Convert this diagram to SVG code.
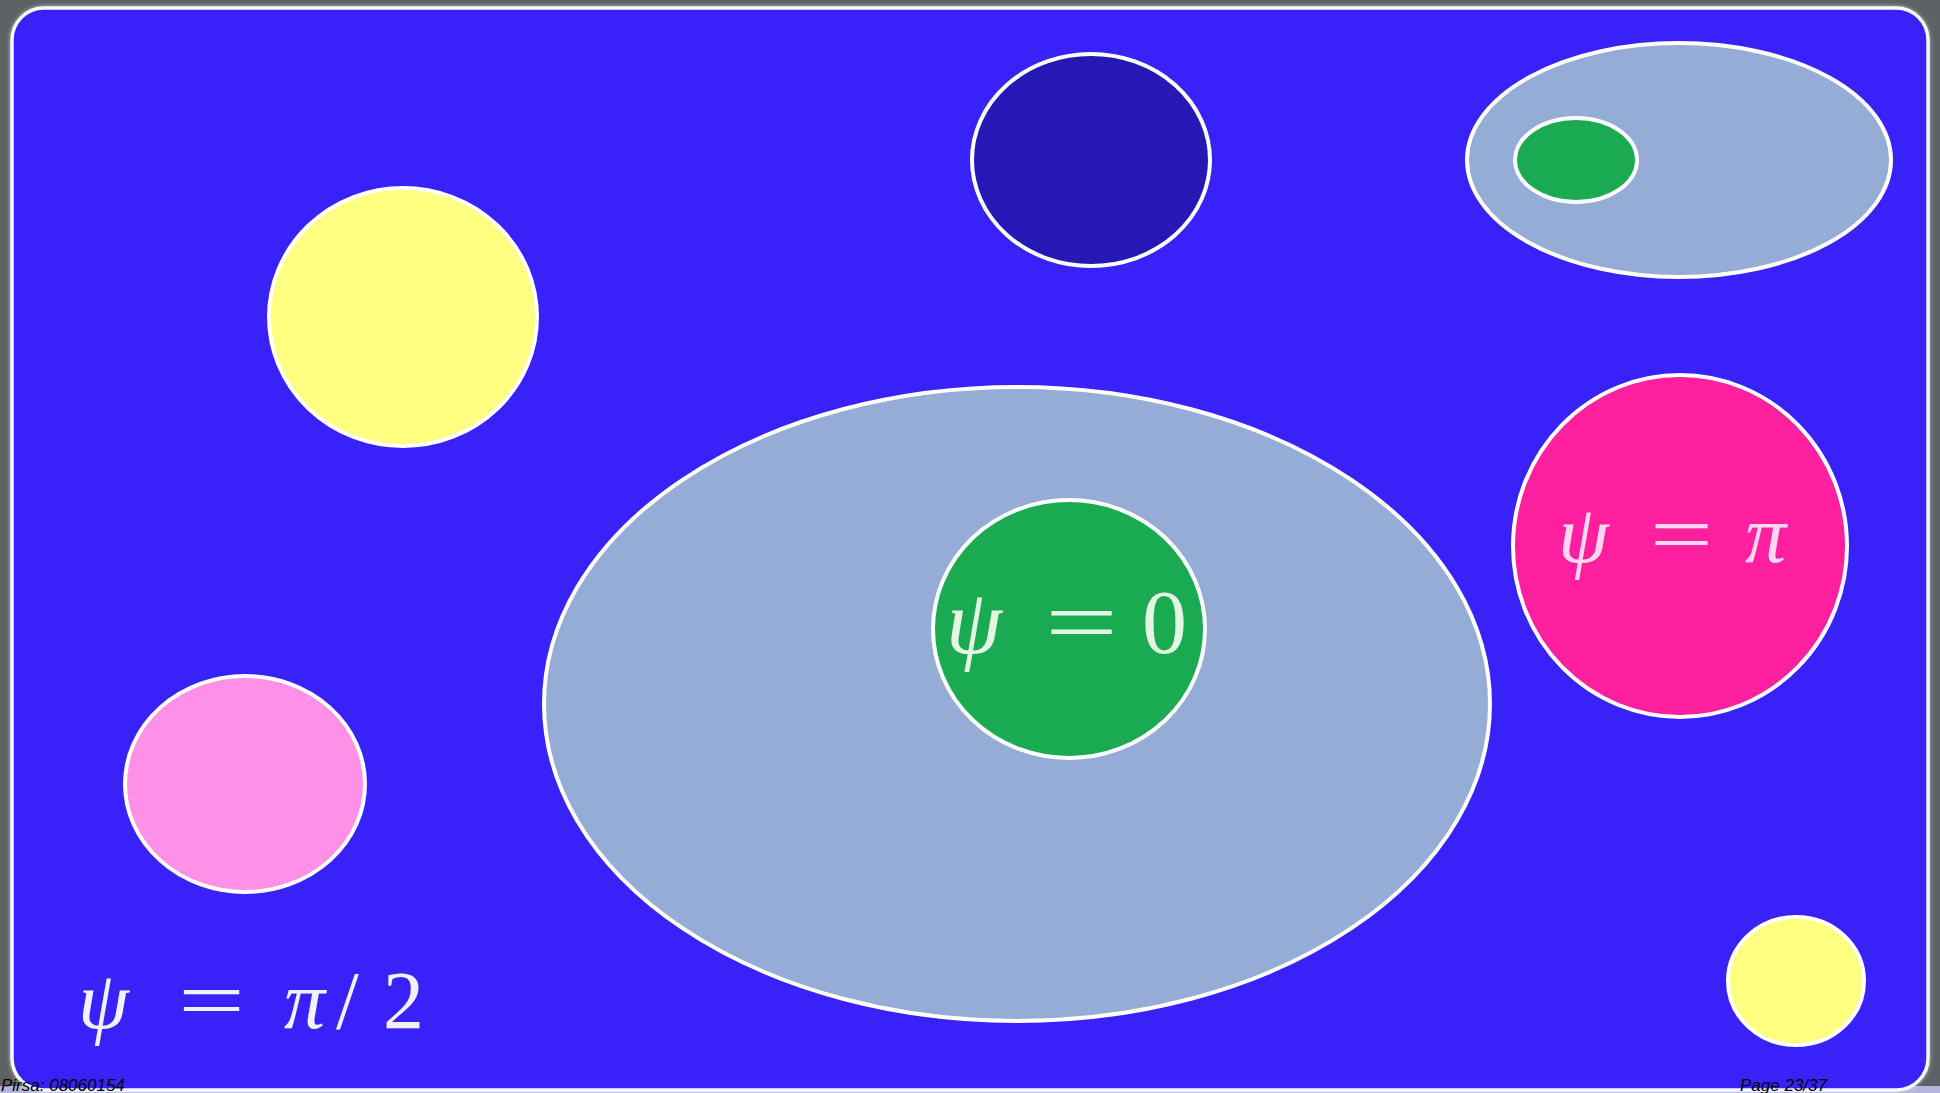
<svg xmlns="http://www.w3.org/2000/svg" width="1940" height="1093" viewBox="0 0 1940 1093">
  <defs>
    <style>
      .shape { stroke: #ffffff; stroke-width: 4; }
      .math { font-family: "Liberation Serif", "DejaVu Serif", serif; }
      .it { font-style: italic; }
      .foot { font-family: "Liberation Sans", Arial, sans-serif; font-style: italic; font-size: 17px; fill: #000000; }
    </style>
    <filter id="glow" x="-10%" y="-10%" width="120%" height="120%">
      <feGaussianBlur in="SourceAlpha" stdDeviation="2" result="b"/>
      <feFlood flood-color="#ffffff" flood-opacity="0.6"/>
      <feComposite in2="b" operator="in" result="g"/>
      <feMerge><feMergeNode in="g"/><feMergeNode in="SourceGraphic"/></feMerge>
    </filter>
  </defs>

  <rect x="0" y="0" width="1940" height="1093" fill="#5d6163"/>
  <rect x="0" y="1086" width="1940" height="7" fill="#b4b4dc"/>
  <rect id="frame" x="12" y="8" width="1916" height="1082" rx="32" ry="32" fill="#3822f8" stroke="#f4f8ff" stroke-width="3.5" filter="url(#glow)"/>

  <g id="connectors"></g>

  <g id="yellow-large">
    <ellipse class="shape" cx="403" cy="317" rx="134" ry="129" fill="#ffff80"/>
  </g>
  <g id="navy-circle">
    <ellipse class="shape" cx="1091" cy="160" rx="119" ry="106" fill="#2518b4"/>
  </g>
  <g id="top-right-ellipse">
    <ellipse class="shape" cx="1679" cy="160" rx="212" ry="117" fill="#95acd6"/>
    <ellipse class="shape" cx="1576" cy="160" rx="61" ry="42" fill="#1aab52"/>
  </g>
  <g id="large-ellipse">
    <ellipse class="shape" cx="1017" cy="704" rx="473" ry="317" fill="#95acd6"/>
  </g>
  <g id="psi-0">
    <ellipse class="shape" cx="1069" cy="629" rx="136" ry="129" fill="#1aab52"/>
    <text class="math" y="653" font-size="90" fill="#e2f6e2"><tspan class="it" x="946">ψ</tspan><tspan x="1045" textLength="73" lengthAdjust="spacingAndGlyphs">=</tspan><tspan x="1142">0</tspan></text>
  </g>
  <g id="psi-pi">
    <ellipse class="shape" cx="1680" cy="546" rx="167" ry="171" fill="#ff20a0"/>
    <text class="math" y="562" font-size="82" fill="#ffd6f0"><tspan class="it" x="1558">ψ</tspan><tspan x="1650" textLength="63" lengthAdjust="spacingAndGlyphs">=</tspan><tspan class="it" x="1745">π</tspan></text>
  </g>
  <g id="pink-circle">
    <ellipse class="shape" cx="245" cy="784" rx="120" ry="108" fill="#ff90e8"/>
  </g>
  <g id="yellow-small">
    <ellipse class="shape" cx="1796" cy="981" rx="68" ry="64" fill="#ffff80"/>
  </g>
  <g id="psi-pi-2">
    <text class="math" y="1028" font-size="82" fill="#f2f2ff"><tspan class="it" x="78">ψ</tspan><tspan x="178" textLength="67" lengthAdjust="spacingAndGlyphs">=</tspan><tspan class="it" x="284">π</tspan><tspan x="336">/</tspan><tspan x="383">2</tspan></text>
  </g>

  <text class="foot" x="1" y="1091">Pirsa: 08060154</text>
  <text class="foot" x="1740" y="1091">Page 23/37</text>
</svg>
